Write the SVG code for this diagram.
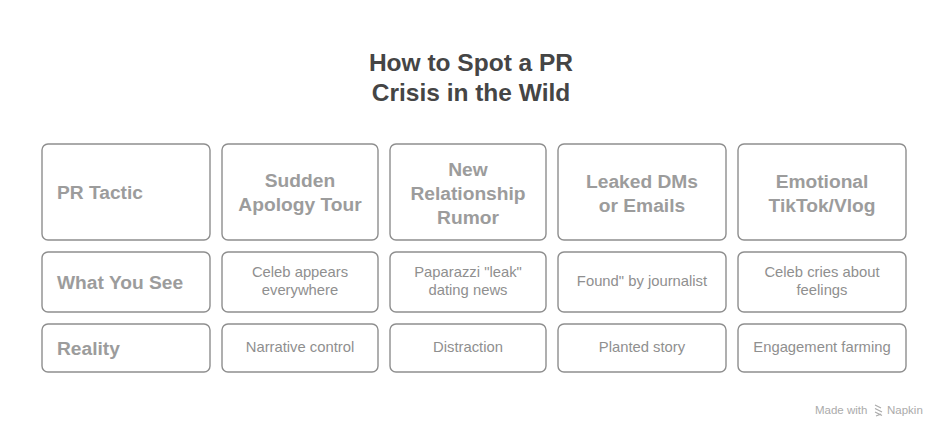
<svg xmlns="http://www.w3.org/2000/svg" width="949" height="438" viewBox="0 0 949 438">
<style>
.box{fill:#ffffff;stroke:#8e8e8e;stroke-width:1.4}
.title{font-family:"Liberation Sans",Arial,sans-serif;font-weight:bold;font-size:24.5px;fill:#454545;text-anchor:middle}
.hdr{font-family:"Liberation Sans",Arial,sans-serif;font-weight:bold;font-size:19.2px;fill:#9c9c9c}
.hc{text-anchor:middle}
.val{font-family:"Liberation Sans",Arial,sans-serif;font-size:14.8px;fill:#8f8f8f;text-anchor:middle}
.wm{font-family:"Liberation Sans",Arial,sans-serif;font-size:11.5px;fill:#ababab}
</style>
<rect width="949" height="438" fill="#ffffff"/>
<g id="title">
<text class="title" x="471" y="71">How to Spot a PR</text>
<text class="title" x="471" y="101">Crisis in the Wild</text>
</g>
<g id="connectors"></g>
<g id="h-tactic"><rect class="box" x="42" y="144" width="168" height="96" rx="6"/><text class="hdr" x="57" y="199">PR Tactic</text></g>
<g id="h-apology"><rect class="box" x="222" y="144" width="156" height="96" rx="6"/><text class="hdr hc" x="300" y="187">Sudden</text><text class="hdr hc" x="300" y="211">Apology Tour</text></g>
<g id="h-relationship"><rect class="box" x="390" y="144" width="156" height="96" rx="6"/><text class="hdr hc" x="468" y="176">New</text><text class="hdr hc" x="468" y="200">Relationship</text><text class="hdr hc" x="468" y="224">Rumor</text></g>
<g id="h-leaked"><rect class="box" x="558" y="144" width="168" height="96" rx="6"/><text class="hdr hc" x="642" y="188">Leaked DMs</text><text class="hdr hc" x="642" y="212">or Emails</text></g>
<g id="h-emotional"><rect class="box" x="738" y="144" width="168" height="96" rx="6"/><text class="hdr hc" x="822" y="188">Emotional</text><text class="hdr hc" x="822" y="212">TikTok/Vlog</text></g>

<g id="r-see"><rect class="box" x="42" y="252" width="168" height="60" rx="6"/><text class="hdr" x="57" y="289">What You See</text></g>
<g id="see-apology"><rect class="box" x="222" y="252" width="156" height="60" rx="6"/><text class="val" x="300" y="277">Celeb appears</text><text class="val" x="300" y="295">everywhere</text></g>
<g id="see-relationship"><rect class="box" x="390" y="252" width="156" height="60" rx="6"/><text class="val" x="468" y="277">Paparazzi "leak"</text><text class="val" x="468" y="295">dating news</text></g>
<g id="see-leaked"><rect class="box" x="558" y="252" width="168" height="60" rx="6"/><text class="val" x="642" y="286">Found" by journalist</text></g>
<g id="see-emotional"><rect class="box" x="738" y="252" width="168" height="60" rx="6"/><text class="val" x="822" y="277">Celeb cries about</text><text class="val" x="822" y="295">feelings</text></g>

<g id="r-reality"><rect class="box" x="42" y="324" width="168" height="48" rx="6"/><text class="hdr" x="57" y="355">Reality</text></g>
<g id="re-apology"><rect class="box" x="222" y="324" width="156" height="48" rx="6"/><text class="val" x="300" y="352">Narrative control</text></g>
<g id="re-relationship"><rect class="box" x="390" y="324" width="156" height="48" rx="6"/><text class="val" x="468" y="352">Distraction</text></g>
<g id="re-leaked"><rect class="box" x="558" y="324" width="168" height="48" rx="6"/><text class="val" x="642" y="352">Planted story</text></g>
<g id="re-emotional"><rect class="box" x="738" y="324" width="168" height="48" rx="6"/><text class="val" x="822" y="352">Engagement farming</text></g>

<g id="watermark">
<text class="wm" x="815" y="414">Made with</text>
<path d="M875 405 l6 3 M875 408.5 l7 3.5 M875 412 l7 3.5 M876 416 l5 -2" stroke="#ababab" stroke-width="1.2" fill="none"/>
<text class="wm" x="887" y="414">Napkin</text>
</g>
</svg>
